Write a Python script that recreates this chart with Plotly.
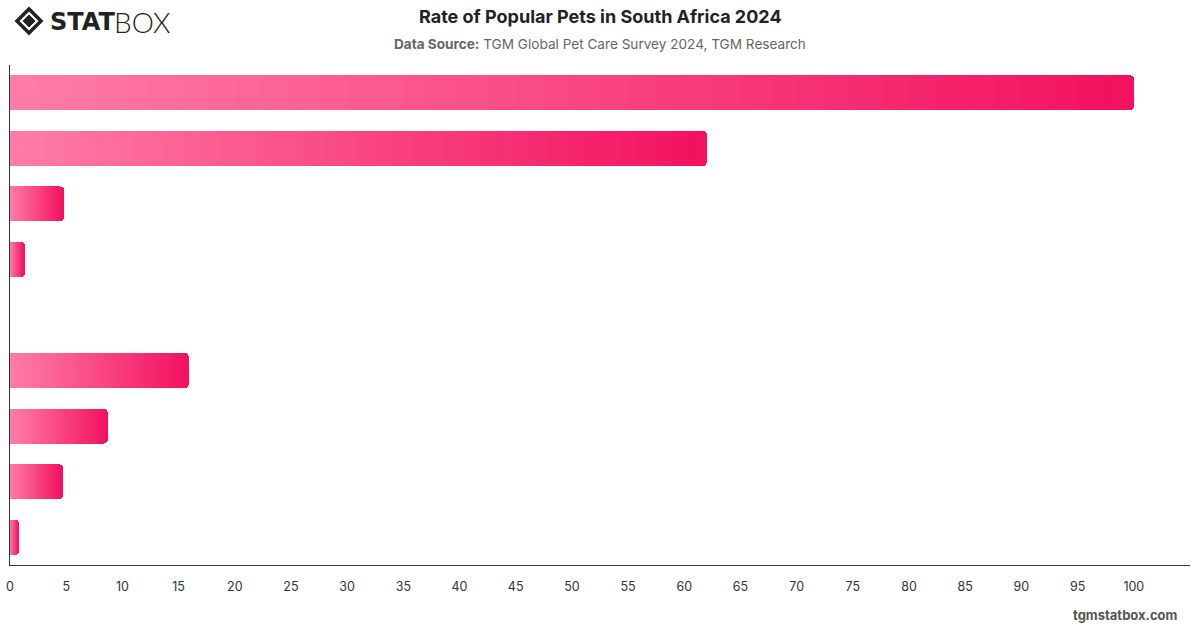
import plotly.graph_objects as go

# ---- data ----
categories = ["1", "2", "3", "4", "5", "6", "7", "8", "9"]
values = [100, 62, 4.8, 1.3, 0, 15.9, 8.7, 4.7, 0.8]
x_ticks = list(range(0, 101, 5))

title_text = "<b>Rate of Popular Pets in South Africa 2024</b>"
subtitle_text = "<b>Data Source:</b> TGM Global Pet Care Survey 2024, TGM Research"

# ---- gradient via stacked segments ----
N_SEG = 40
c0 = (255, 124, 166)
c1 = (243, 18, 96)

fig = go.Figure()
for k in range(N_SEG):
    t = k / (N_SEG - 1)
    col = tuple(round(c0[i] + (c1[i] - c0[i]) * t) for i in range(3))
    fig.add_trace(go.Bar(
        y=categories,
        x=[v / N_SEG for v in values],
        orientation="h",
        marker=dict(color="rgb(%d,%d,%d)" % col, line=dict(width=0)),
        hoverinfo="skip",
        showlegend=False,
    ))

W, H = 1200, 628
L, R, T, B = 10, 10, 65, 63
pw, ph = W - L - R, H - T - B

def px(x):
    return (x - L) / pw

def py(y):
    return (H - B - y) / ph

# logo diamond icon
cx, cy = 29, 21
outer = 12
inner = 6
shapes = [
    dict(type="path", xref="paper", yref="paper",
         path="M %f,%f L %f,%f L %f,%f L %f,%f Z" % (
             px(cx - outer), py(cy), px(cx), py(cy - outer),
             px(cx + outer), py(cy), px(cx), py(cy + outer)),
         line=dict(color="#222", width=3.5), fillcolor="rgba(0,0,0,0)"),
    dict(type="path", xref="paper", yref="paper",
         path="M %f,%f L %f,%f L %f,%f L %f,%f Z" % (
             px(cx - inner), py(cy), px(cx), py(cy - inner),
             px(cx + inner), py(cy), px(cx), py(cy + inner)),
         line=dict(color="#222", width=1), fillcolor="#222"),
]

annotations = [
    dict(text=title_text, xref="paper", yref="paper", x=px(600), y=py(17),
         xanchor="center", yanchor="middle", showarrow=False,
         font=dict(family="Inter, sans-serif", size=18, color="#222")),
    dict(text=subtitle_text, xref="paper", yref="paper", x=px(600), y=py(44),
         xanchor="center", yanchor="middle", showarrow=False,
         font=dict(family="Inter, sans-serif", size=13.6, color="#666")),
    dict(text="STAT", xref="paper", yref="paper", x=px(48), y=py(22),
         xanchor="left", yanchor="middle", showarrow=False,
         font=dict(family="DejaVu Sans, sans-serif", size=24, color="#222", weight=900)),
    dict(text="BOX", xref="paper", yref="paper", x=px(112), y=py(22),
         xanchor="left", yanchor="middle", showarrow=False,
         font=dict(family="Lato, sans-serif", size=28, color="#222", weight=300)),
    dict(text="<b>tgmstatbox.com</b>", xref="paper", yref="paper", x=px(1180), y=py(615),
         xanchor="right", yanchor="middle", showarrow=False,
         font=dict(family="Inter, sans-serif", size=13, color="#555")),
]

fig.update_layout(
    width=W, height=H,
    margin=dict(l=L, r=R, t=T, b=B, autoexpand=False),
    paper_bgcolor="white", plot_bgcolor="white",
    barmode="stack", bargap=0.37, barcornerradius=4,
    shapes=shapes, annotations=annotations,
    font=dict(family="Inter, sans-serif"),
)
fig.update_xaxes(
    range=[0, 105], tickvals=x_ticks, ticktext=[str(v) for v in x_ticks],
    showgrid=False, zeroline=False, showline=True, linecolor="#333", linewidth=1,
    ticks="outside", ticklen=10, tickcolor="rgba(0,0,0,0)",
    tickfont=dict(size=12.5, color="#333"), automargin=False,
)
fig.update_yaxes(
    autorange="reversed", showticklabels=False, showgrid=False, zeroline=False,
    showline=True, linecolor="#333", linewidth=1, ticks="", automargin=False,
)

fig.write_html("out.html")
